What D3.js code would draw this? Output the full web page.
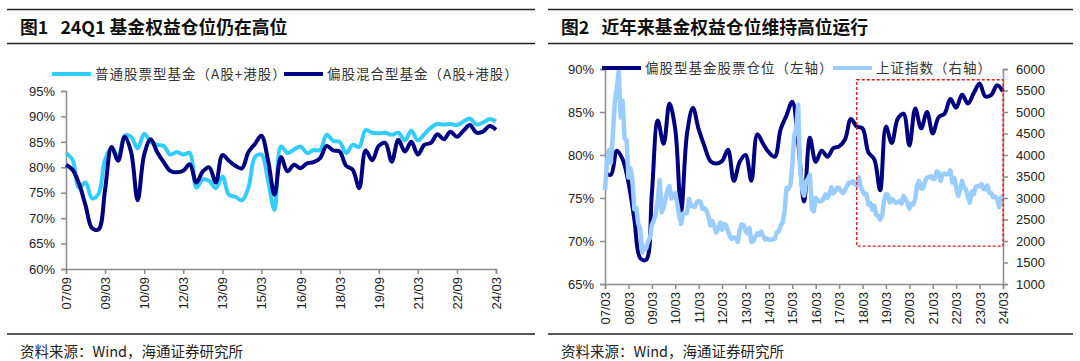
<!DOCTYPE html>
<html><head><meta charset="utf-8">
<script src="https://cdn.jsdelivr.net/npm/d3@7/dist/d3.min.js"></script>
<style>
body{margin:0;background:#fff;}
svg{display:block;}
</style></head>
<body><svg id="c" width="1080" height="361"></svg>
<script>
// ---------------- DATA ----------------
// Quarterly equity position (%), 偏股混合型 / 偏股型, starting 2007-03
const hybridPos = [77.9, 77.7,
  80.5, 79.5, 76.8, 72.5, 68.0, 67.8, 75.5, 84.0, 81.3, 86.0,
  83.0, 73.5, 82.5, 85.5, 83.0, 81.0, 79.3, 79.0, 79.3, 80.6,
  77.0, 79.2, 80.0, 77.0, 82.4, 81.3, 80.3, 79.8, 83.0, 84.6,
  86.2, 81.5, 74.6, 82.0, 79.2, 80.5, 79.8, 80.8, 81.0, 81.8,
  84.2, 83.3, 83.1, 80.3, 79.5, 75.9, 83.3, 81.4, 84.2, 84.8,
  81.1, 85.4, 83.1, 85.0, 82.5, 84.4, 84.8, 86.5, 85.5, 87.0,
  86.0, 87.2, 88.3, 86.8, 87.0, 88.1, 87.4];
// Quarterly equity position (%), 普通股票型, starting 2007-09
const stockPos = [
  82.8, 81.5, 76.0, 77.0, 73.9, 74.8, 81.5, 83.8, 82.0, 86.2,
  86.0, 83.7, 86.6, 85.0, 84.4, 84.2, 82.5, 83.0, 82.5, 82.8,
  76.0, 77.6, 77.3, 75.9, 78.2, 74.6, 74.2, 73.5, 76.0, 82.0,
  82.5, 77.5, 71.6, 84.1, 82.8, 83.5, 84.1, 82.8, 83.4, 83.4,
  86.4, 85.2, 85.0, 82.8, 84.4, 84.0, 87.3, 86.8, 86.7, 86.8,
  86.4, 86.8, 85.3, 87.2, 85.3, 86.5, 87.8, 88.5, 88.4, 88.5,
  88.3, 89.0, 89.6, 88.4, 88.8, 89.5, 89.0];
// Shanghai Composite, monthly, starting 2007-03
const sseIndex = [
  3183,3841,4109,3820,4471,5218,5552,5954,4871,5262,
  4383,4348,3473,3693,3433,2736,2775,2397,2293,1729,1871,1821,
  1991,2082,2373,2477,2633,2959,3412,2667,2779,2996,3195,3277,
  2989,3051,3110,2871,2592,2398,2638,2638,2656,2979,2820,2808,
  2790,2905,2928,2911,2743,2762,2701,2568,2359,2469,2333,2199,
  2292,2428,2263,2397,2373,2225,2103,2047,2086,2069,1980,2269,
  2385,2366,2237,2178,2301,1979,1994,2098,2175,2141,2220,2116,
  2033,2056,2033,2026,2039,2048,2202,2217,2364,2420,2683,3235,
  3210,3310,3748,4442,4612,5166,3664,3206,3053,3383,3445,3539,
  2738,2688,3004,2938,2917,2930,2979,3085,3005,3100,3250,3104,
  3159,3242,3223,3155,3117,3192,3273,3361,3349,3393,3317,3307,
  3481,3259,3169,3082,3095,2847,2876,2725,2821,2603,2588,2494,
  2585,2941,3091,3078,2899,2979,2933,2886,2905,2929,2872,3050,
  2977,2880,2750,2860,2852,2985,3310,3396,3218,3225,3392,3473,
  3483,3509,3442,3447,3615,3591,3397,3544,3568,3547,3564,3640,
  3361,3462,3252,3047,3186,3399,3253,3202,3024,2893,3151,3089,
  3256,3280,3273,3323,3205,3202,3291,3120,3110,3019,3030,2975,
  2789,3015,3041];
const leftTickLabels = ["07/09","09/03","10/09","12/03","13/09","15/03","16/09","18/03","19/09","21/03","22/09","24/03"];
const rightTickLabels = ["07/03","08/03","09/03","10/03","11/03","12/03","13/03","14/03","15/03","16/03","17/03","18/03","19/03","20/03","21/03","22/03","23/03","24/03"];
const leftYTicks = [60,65,70,75,80,85,90,95];
const rightYTicks = [65,70,75,80,85,90];
const rightY2Ticks = [1000,1500,2000,2500,3000,3500,4000,4500,5000,5500,6000];
const highlightBox = {from:"2017-12", to:"2024-03", top:5750, bottom:1880};
const titles = ["图1   24Q1 基金权益仓位仍在高位","图2   近年来基金权益仓位维持高位运行"];
const legendLeft = ["普通股票型基金（A股+港股）","偏股混合型基金（A股+港股）"];
const legendRight = ["偏股型基金股票仓位（左轴）","上证指数（右轴）"];
const sourceText = "资料来源：Wind，海通证券研究所";

// ---------------- DRAW ----------------
const svg = d3.select("#c");
const parse = d3.timeParse("%y/%m");
const parseYM = d3.timeParse("%Y-%m");
const CJK = "'Noto Sans CJK SC','Noto Sans',sans-serif";
const LAT = "'Liberation Sans',Arial,sans-serif";
const C_LIGHT = "#33ccff", C_DARK = "#000080", C_SSE = "#99ccff";
const AX = "#8c8c8c";

function frame(x0, x1, title){
  [9.5, 43.5, 334].forEach(yy=>{
    svg.append("line").attr("x1",x0).attr("x2",x1).attr("y1",yy).attr("y2",yy).attr("stroke","#222").attr("stroke-width",1.6);
  });
  svg.append("text").attr("x",x0+13).attr("y",33.5).attr("font-family",CJK).attr("font-weight","bold")
    .attr("font-size",17.8).attr("fill","#111").attr("xml:space","preserve").text(title);
  svg.append("text").attr("x",x0+13).attr("y",357).attr("font-family",CJK)
    .attr("font-size",14.5).attr("fill","#222").text(sourceText);
}
frame(7, 535, titles[0]);
frame(548, 1073, titles[1]);

function styleAxis(g){
  g.select(".domain").attr("stroke",AX).attr("stroke-width",1.5);
  g.selectAll(".tick line").attr("stroke",AX).attr("stroke-width",1.5);
  g.selectAll("text").attr("font-family",LAT).attr("font-size",13).attr("fill","#222");
}

function legendItem(lx, ly, c, t){
  svg.append("line").attr("x1",lx).attr("x2",lx+39).attr("y1",ly).attr("y2",ly).attr("stroke",c).attr("stroke-width",4);
  svg.append("text").attr("x",lx+43).attr("y",ly+4.8).attr("font-family",CJK).attr("font-size",13.5)
    .attr("letter-spacing","1px").attr("fill","#333").text(t);
}

// ---------- Left chart ----------
{
  const startL = parseYM("2007-09");
  const dates = stockPos.map((d,i)=>d3.timeMonth.offset(startL, 3*i));
  const x = d3.scaleTime().domain([startL, parse("24/03")]).range([66,496]);
  const y = d3.scaleLinear().domain([60,95]).range([269,91]);
  const gy = svg.append("g").attr("transform","translate(66,0)")
    .call(d3.axisLeft(y).tickValues(leftYTicks).tickSize(5).tickPadding(6).tickFormat(d=>d+"%"));
  styleAxis(gy);
  const gx = svg.append("g").attr("transform","translate(0,269)")
    .call(d3.axisBottom(x).tickValues(leftTickLabels.map(parse)).tickSize(5).tickFormat(d3.timeFormat("%y/%m")));
  styleAxis(gx);
  gx.selectAll("text").attr("transform","rotate(-90)").attr("text-anchor","end")
    .attr("x",-8).attr("y",0).attr("dy","0.35em");
  const line = d3.line().x((d,i)=>x(dates[i])).y(d=>y(d)).curve(d3.curveCatmullRom.alpha(0.5));
  svg.append("path").datum(stockPos).attr("d",line).attr("fill","none").attr("stroke",C_LIGHT).attr("stroke-width",4).attr("stroke-linejoin","round");
  svg.append("path").datum(hybridPos.slice(2)).attr("d",line).attr("fill","none").attr("stroke",C_DARK).attr("stroke-width",4).attr("stroke-linejoin","round");
  legendItem(52, 74, C_LIGHT, legendLeft[0]);
  legendItem(284, 74, C_DARK, legendLeft[1]);
}

// ---------- Right chart ----------
{
  const startR = parseYM("2007-03");
  const qDates = hybridPos.map((d,i)=>d3.timeMonth.offset(startR, 3*i));
  const mDates = sseIndex.map((d,i)=>d3.timeMonth.offset(startR, i));
  const x = d3.scaleTime().domain([startR, parse("24/03")]).range([605,1003]);
  const y = d3.scaleLinear().domain([65,90]).range([284,69]);
  const y2 = d3.scaleLinear().domain([1000,6000]).range([284,69]);
  const gy = svg.append("g").attr("transform","translate(605,0)")
    .call(d3.axisLeft(y).tickValues(rightYTicks).tickSize(5).tickPadding(6).tickFormat(d=>d+"%"));
  styleAxis(gy);
  const gy2 = svg.append("g").attr("transform","translate(1003,0)")
    .call(d3.axisRight(y2).tickValues(rightY2Ticks).tickSize(5).tickPadding(8).tickFormat(d3.format("d")));
  styleAxis(gy2);
  const gx = svg.append("g").attr("transform","translate(0,284)")
    .call(d3.axisBottom(x).tickValues(rightTickLabels.map(parse)).tickSize(5).tickFormat(d3.timeFormat("%y/%m")));
  styleAxis(gx);
  gx.selectAll("text").attr("transform","rotate(-90)").attr("text-anchor","end")
    .attr("x",-8).attr("y",0).attr("dy","0.35em");
  const lineQ = d3.line().x((d,i)=>x(qDates[i])).y(d=>y(d)).curve(d3.curveCatmullRom.alpha(0.5));
  const lineM = d3.line().x((d,i)=>x(mDates[i])).y(d=>y2(d));
  svg.append("path").datum(hybridPos).attr("d",lineQ).attr("fill","none").attr("stroke",C_DARK).attr("stroke-width",4).attr("stroke-linejoin","round");
  svg.append("path").datum(sseIndex).attr("d",lineM).attr("fill","none").attr("stroke",C_SSE).attr("stroke-width",4.5).attr("stroke-linejoin","round");
  const bx0 = x(parseYM(highlightBox.from)), bx1 = x(parseYM(highlightBox.to));
  svg.append("rect").attr("x",bx0).attr("y",y2(highlightBox.top)).attr("width",bx1-bx0)
    .attr("height",y2(highlightBox.bottom)-y2(highlightBox.top))
    .attr("fill","none").attr("stroke","#e31a1c").attr("stroke-width",1.4).attr("stroke-dasharray","3,2");
  legendItem(602, 68, C_DARK, legendRight[0]);
  legendItem(833, 68, C_SSE, legendRight[1]);
}
</script>
</body></html>
